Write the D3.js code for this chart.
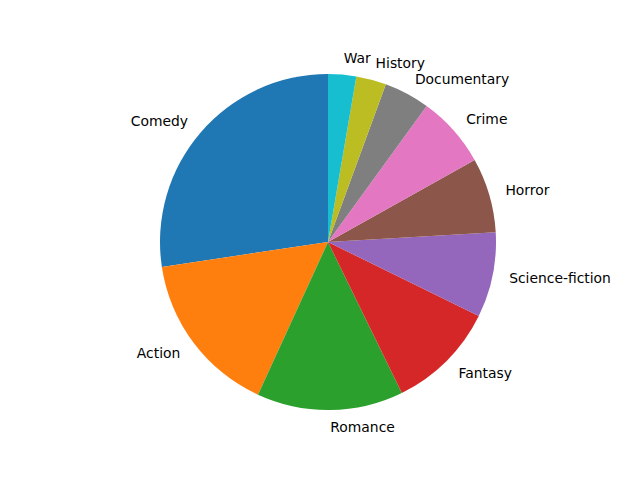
<!DOCTYPE html>
<html>
<head>
<meta charset="utf-8">
<script src="https://cdn.jsdelivr.net/npm/d3@7"></script>
<style>
  body { margin: 0; background: #fff; }
  text { font-family: "DejaVu Sans", sans-serif; font-size: 13.89px; fill: #000; }
</style>
</head>
<body>
<div id="chart"></div>
<script>
const genres = ['Comedy', 'Action', 'Romance', 'Fantasy', 'Science-fiction', 'Horror', 'Crime', 'Documentary', 'History', 'War'];
const shares = [27.4, 15.8, 14.1, 10.5, 8.2, 7.2, 6.9, 4.4, 2.9, 2.7];
const colors = ['#1f77b4', '#ff7f0e', '#2ca02c', '#d62728', '#9467bd', '#8c564b', '#e377c2', '#7f7f7f', '#bcbd22', '#17becf'];

const width = 640, height = 480;
const cx = 328, cy = 242, r = 168;

const svg = d3.select('#chart').append('svg')
    .attr('width', width)
    .attr('height', height);

// matplotlib: start at top, go counterclockwise -> d3 angles negative
const pie = d3.pie().sort(null)
    .startAngle(0)
    .endAngle(-2 * Math.PI)
    .value(d => d);
const arcs = pie(shares);

const arc = d3.arc().innerRadius(0).outerRadius(r);

const g = svg.append('g').attr('transform', `translate(${cx},${cy})`);

g.selectAll('path')
    .data(arcs)
    .enter()
    .append('path')
        .attr('d', arc)
        .attr('fill', (d, i) => colors[i]);

g.selectAll('text')
    .data(arcs)
    .enter()
    .append('text')
        .attr('x', d => Math.sin((d.startAngle + d.endAngle) / 2) * r * 1.1)
        .attr('y', d => -Math.cos((d.startAngle + d.endAngle) / 2) * r * 1.1)
        .attr('dy', '0.35em')
        .attr('text-anchor', d => Math.sin((d.startAngle + d.endAngle) / 2) > 0 ? 'start' : 'end')
        .text((d, i) => genres[i]);
</script>
</body>
</html>
